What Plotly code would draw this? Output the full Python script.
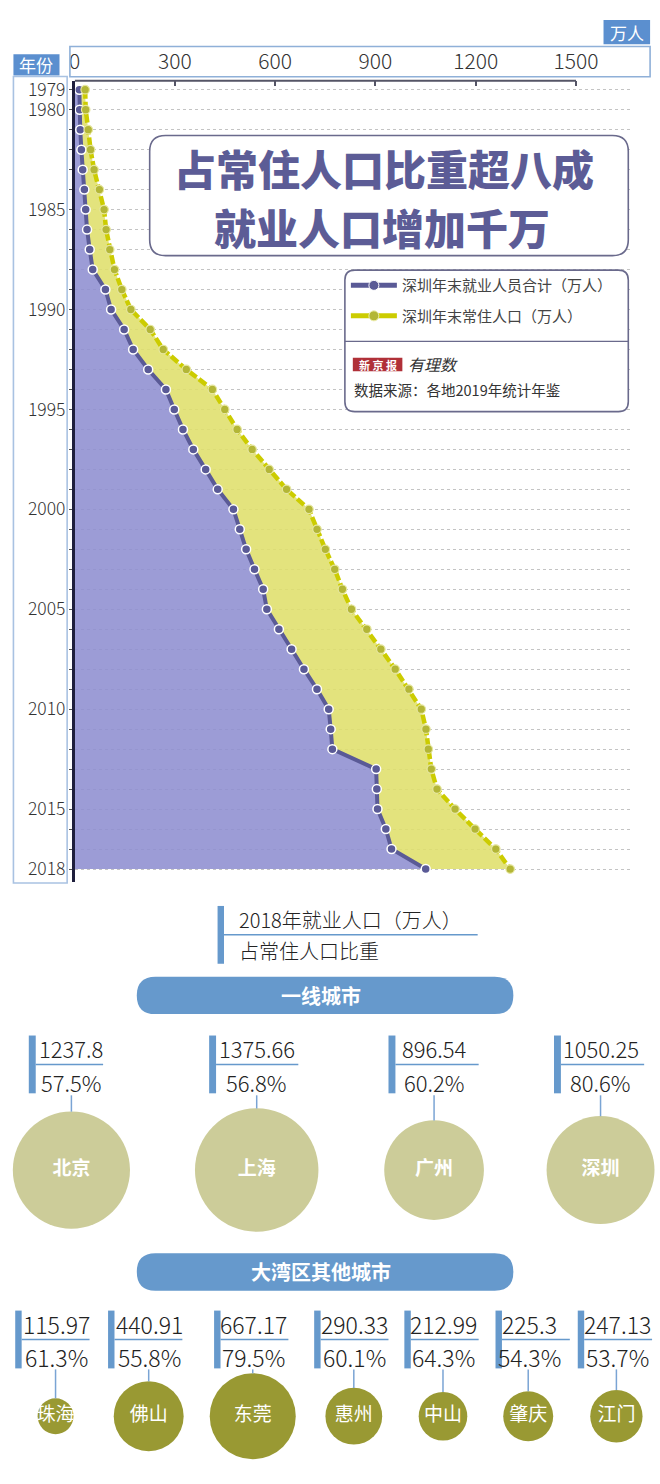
import math
import plotly.graph_objects as go

W, H = 660, 1484
FONT = "Noto Sans CJK SC"

# ---------------- data ----------------
years = list(range(1979, 2019))
employment = [14, 15, 16.7, 20, 24, 29, 33, 37, 45, 54,
              92, 109, 148, 175, 220, 273, 298, 324, 355, 392,
              428, 475, 494, 513, 538, 564, 575, 611, 649, 686,
              725, 760, 766, 771, 902, 904, 906, 931, 948, 1050.25]
population = [31.4, 33, 40.6, 47.5, 58, 74, 88, 94, 105, 119,
              141, 168, 226, 265, 334, 412, 449, 486, 531, 582,
              634, 701, 725, 750, 778, 801, 828, 874, 916, 959,
              1000, 1037, 1051, 1058, 1067, 1084, 1138, 1198, 1260, 1303]
x_ticks = [0, 300, 600, 900, 1200, 1500]
year_ticks = [1979, 1980, 1985, 1990, 1995, 2000, 2005, 2010, 2015, 2018]

tier1_cities = ["北京", "上海", "广州", "深圳"]
tier1_jobs = [1237.8, 1375.66, 896.54, 1050.25]
tier1_share = ["57.5%", "56.8%", "60.2%", "80.6%"]

tier2_cities = ["珠海", "佛山", "东莞", "惠州", "中山", "肇庆", "江门"]
tier2_jobs = [115.97, 440.91, 667.17, 290.33, 212.99, 225.3, 247.13]
tier2_share = ["61.3%", "55.8%", "79.5%", "60.1%", "64.3%", "54.3%", "53.7%"]

series_names = ["深圳年末就业人员合计（万人）", "深圳年末常住人口（万人）"]

# ---------------- layout constants (pixels) ----------------
X0_PX, PX_PER_UNIT, X_END_PX = 69.3, 0.3373, 630
Y_TOP_PX, Y_BOT_PX = 76, 880
ROW0_PX, ROW_STEP = 85, 20.05

tier1_cx = [66, 253, 432, 600]
tier1_bar = [23, 205, 386, 553]
tier1_line_end = [98, 295, 477, 644]
tier1_cy = 1169

tier2_cx = [50, 144, 249, 351, 441, 527, 616]
tier2_bar = [9.3, 103, 210, 311, 402, 494, 577]
tier2_cy = 1416

SIZE_K = 3.33

BLUE = "#6699cc"
PURPLE = "#5a5a96"
YEL = "#cccc00"
LIGHT = 300


def Y(py):
    return 1 - py / H


def X(px):
    return px / W


def rrect_path(x0, y0, x1, y1, r):
    return (f"M {x0+r},{y0} L {x1-r},{y0} Q {x1},{y0} {x1},{y0+r} "
            f"L {x1},{y1-r} Q {x1},{y1} {x1-r},{y1} L {x0+r},{y1} "
            f"Q {x0},{y1} {x0},{y1-r} L {x0},{y0+r} Q {x0},{y0} {x0+r},{y0} Z")


fig = go.Figure()

# main series
fig.add_trace(go.Scatter(
    x=employment, y=years, mode="lines+markers", fill="tozerox",
    fillcolor="rgba(142,142,208,0.88)",
    line=dict(color=PURPLE, width=4),
    marker=dict(size=9, color=PURPLE, line=dict(color="white", width=1.5)),
    showlegend=False, hoverinfo="skip"))
fig.add_trace(go.Scatter(
    x=population, y=years, mode="lines+markers", fill="tonextx",
    fillcolor="rgba(223,223,107,0.88)",
    line=dict(color=YEL, width=4.5, dash="9px,3px"),
    marker=dict(size=8.5, color="#b3b636", line=dict(color="#e6e6a0", width=1.2)),
    showlegend=False, hoverinfo="skip"))

# legend entries
fig.add_trace(go.Scatter(x=[None], y=[None], mode="lines+markers", name=series_names[0],
                         legendgroup="a",
                         line=dict(color=PURPLE, width=5),
                         marker=dict(size=10, color=PURPLE, line=dict(color="white", width=1))))
fig.add_trace(go.Scatter(x=[None], y=[None], mode="lines+markers", name=series_names[1],
                         legendgroup="b",
                         line=dict(color=YEL, width=5),
                         marker=dict(size=10, color="#b3b636", line=dict(color="#eeeeb0", width=1))))

# bubbles (pixel-space overlay axes)
fig.add_trace(go.Scatter(
    x=tier1_cx, y=[tier1_cy] * len(tier1_cx), xaxis="x2", yaxis="y2",
    mode="markers+text", text=tier1_cities, textposition="middle center",
    textfont=dict(family=FONT, size=19, color="white", weight="bold"),
    marker=dict(size=[SIZE_K * math.sqrt(v) for v in tier1_jobs], color="#cccc99",
                opacity=1, line=dict(width=0)),
    showlegend=False, hoverinfo="skip"))
fig.add_trace(go.Scatter(
    x=tier2_cx, y=[tier2_cy] * len(tier2_cx), xaxis="x2", yaxis="y2",
    mode="markers+text", text=tier2_cities, textposition="middle center",
    textfont=dict(family=FONT, size=19, color="white"),
    marker=dict(size=[SIZE_K * math.sqrt(v) for v in tier2_jobs], color="#999933",
                opacity=1, line=dict(width=0)),
    showlegend=False, hoverinfo="skip"))

shapes = []
annos = []

# ---- header boxes ----
shapes.append(dict(type="rect", xref="x2", yref="y2", x0=603, x1=650, y0=15, y1=39.5,
                   fillcolor="#5b8fcf", line=dict(width=0), layer="above"))
annos.append(dict(xref="x2", yref="y2", x=626.5, y=27.5, text="万人", showarrow=False,
                  font=dict(family=FONT, size=17, color="white")))
shapes.append(dict(type="rect", xref="x2", yref="y2", x0=64.5, x1=650, y0=41.7, y1=72,
                   line=dict(color="#8fb0d8", width=1.6), layer="above"))
shapes.append(dict(type="rect", xref="x2", yref="y2", x0=7.5, x1=54, y0=49.5, y1=70.7,
                   fillcolor="#5b8fcf", line=dict(width=0), layer="above"))
annos.append(dict(xref="x2", yref="y2", x=30.7, y=60, text="年份", showarrow=False,
                  font=dict(family=FONT, size=17, color="white")))
shapes.append(dict(type="rect", xref="x2", yref="y2", x0=7.5, x1=61.7, y0=71.7, y1=881,
                   line=dict(color="#a9c2e2", width=1.6), layer="above"))

# top axis line
shapes.append(dict(type="line", xref="x", yref="paper", x0=0, x1=1500,
                   y0=Y(Y_TOP_PX), y1=Y(Y_TOP_PX), line=dict(color="#555566", width=2)))

# ---- title box ----
shapes.append(dict(type="path", xref="x2", yref="y2", path=rrect_path(145, 131, 628, 251.5, 16),
                   fillcolor="white", line=dict(color="#6a6a8c", width=1.6), layer="above"))
annos.append(dict(xref="x2", yref="y2", x=381, y=163, text="占常住人口比重超八成", showarrow=False,
                  font=dict(family=FONT, size=42, color="#5c5c96", weight=900)))
annos.append(dict(xref="x2", yref="y2", x=379, y=222, text="就业人口增加千万", showarrow=False,
                  font=dict(family=FONT, size=42, color="#5c5c96", weight=900)))

# ---- legend box ----
shapes.append(dict(type="path", xref="x2", yref="y2", path=rrect_path(342, 266, 628, 408, 10),
                   fillcolor="white", line=dict(color="#6a6a8c", width=1.6), layer="above"))
shapes.append(dict(type="line", xref="x2", yref="y2", x0=342, x1=628, y0=337.5, y1=337.5,
                   line=dict(color="#6a6a8c", width=1.4), layer="above"))
shapes.append(dict(type="rect", xref="x2", yref="y2", x0=350, x1=400, y0=354, y1=367.5,
                   fillcolor="#b03038", line=dict(width=0), layer="above"))
annos.append(dict(xref="x2", yref="y2", x=375, y=361, text="新 京 报", showarrow=False,
                  font=dict(family=FONT, size=11, color="white", weight="bold")))
annos.append(dict(xref="x2", yref="y2", x=404, y=360, xanchor="left", text="有理数", showarrow=False,
                  font=dict(family=FONT, size=16, color="#333333", style="italic")))
annos.append(dict(xref="x2", yref="y2", x=349, y=386, xanchor="left",
                  text="数据来源：各地2019年统计年鉴", showarrow=False,
                  font=dict(family=FONT, size=14.5, color="#333333")))

# ---- lower key ----
shapes.append(dict(type="rect", xref="x2", yref="y2", x0=213.5, x1=220, y0=904, y1=962,
                   fillcolor=BLUE, line=dict(width=0)))
shapes.append(dict(type="line", xref="x2", yref="y2", x0=220, x1=476, y0=933, y1=933,
                   line=dict(color=BLUE, width=1.5)))
annos.append(dict(xref="x2", yref="y2", x=233, y=918, xanchor="left",
                  text="2018年就业人口（万人）", showarrow=False,
                  font=dict(family=FONT, size=20, color="#222222", weight=LIGHT)))
annos.append(dict(xref="x2", yref="y2", x=233, y=949, xanchor="left",
                  text="占常住人口比重", showarrow=False,
                  font=dict(family=FONT, size=20, color="#222222", weight=LIGHT)))

# ---- pills ----
for (y0, y1, label) in [(975, 1012.5, "一线城市"), (1252.5, 1290, "大湾区其他城市")]:
    r = (y1 - y0) / 2
    shapes.append(dict(type="path", xref="x2", yref="y2", path=rrect_path(132, y0, 512, y1, r),
                       fillcolor=BLUE, line=dict(width=0)))
    annos.append(dict(xref="x2", yref="y2", x=318, y=(y0 + y1) / 2, text=label, showarrow=False,
                      font=dict(family=FONT, size=20, color="white", weight="bold")))

# ---- tier 1 items ----
for i in range(len(tier1_cities)):
    bx, cx = tier1_bar[i], tier1_cx[i]
    shapes.append(dict(type="rect", xref="x2", yref="y2", x0=bx, x1=bx + 7, y0=1034, y1=1092,
                       fillcolor=BLUE, line=dict(width=0)))
    shapes.append(dict(type="line", xref="x2", yref="y2", x0=bx + 7, x1=tier1_line_end[i],
                       y0=1063, y1=1063, line=dict(color=BLUE, width=1.5)))
    top = tier1_cy - SIZE_K * math.sqrt(tier1_jobs[i]) / 2
    shapes.append(dict(type="line", xref="x2", yref="y2", x0=cx, x1=cx, y0=1094, y1=top,
                       line=dict(color="#7aa4d4", width=1.5)))
    annos.append(dict(xref="x2", yref="y2", x=cx, y=1047, text=f"{tier1_jobs[i]:g}", showarrow=False,
                      font=dict(family=FONT, size=22, color="#222222", weight=LIGHT)))
    annos.append(dict(xref="x2", yref="y2", x=cx, y=1081, text=tier1_share[i], showarrow=False,
                      font=dict(family=FONT, size=22, color="#222222", weight=LIGHT)))

# ---- tier 2 items ----
for i in range(len(tier2_cities)):
    bx, cx = tier2_bar[i], tier2_cx[i]
    shapes.append(dict(type="rect", xref="x2", yref="y2", x0=bx, x1=bx + 6.5, y0=1310, y1=1368,
                       fillcolor=BLUE, line=dict(width=0)))
    shapes.append(dict(type="line", xref="x2", yref="y2", x0=bx + 6.5, x1=bx + 75,
                       y0=1339, y1=1339, line=dict(color=BLUE, width=1.5)))
    top = tier2_cy - SIZE_K * math.sqrt(tier2_jobs[i]) / 2
    shapes.append(dict(type="line", xref="x2", yref="y2", x0=cx, x1=cx, y0=1369, y1=top,
                       line=dict(color="#7aa4d4", width=1.5)))
    annos.append(dict(xref="x2", yref="y2", x=cx + 1, y=1323, text=f"{tier2_jobs[i]:g}", showarrow=False,
                      font=dict(family=FONT, size=23, color="#222222", weight=LIGHT)))
    annos.append(dict(xref="x2", yref="y2", x=cx + 1, y=1357, text=tier2_share[i], showarrow=False,
                      font=dict(family=FONT, size=23, color="#222222", weight=LIGHT)))

x_range_max = (X_END_PX - X0_PX) / PX_PER_UNIT
y_top_year = years[0] - (ROW0_PX - Y_TOP_PX) / ROW_STEP
y_bot_year = years[0] + (Y_BOT_PX - ROW0_PX) / ROW_STEP

grid_style = dict(gridcolor="#c4c4c4", griddash="3px,3px", gridwidth=1)

fig.update_layout(
    width=W, height=H, margin=dict(l=0, r=0, t=0, b=0),
    paper_bgcolor="white", plot_bgcolor="rgba(0,0,0,0)",
    font=dict(family=FONT, color="#333333"),
    xaxis=dict(domain=[X(X0_PX), X(X_END_PX)], range=[0, x_range_max], side="top",
               anchor="y", showgrid=False, zeroline=False, showline=False,
               tickvals=x_ticks, ticks="inside", ticklen=5, tickwidth=1.5, tickcolor="#555566",
               tickfont=dict(family=FONT, size=21, color="#333333", weight=LIGHT),
               ticklabelstandoff=7, fixedrange=True),
    yaxis=dict(domain=[Y(Y_BOT_PX), Y(Y_TOP_PX)], range=[y_bot_year, y_top_year],
               anchor="x", zeroline=False, showline=True, linecolor="#1e1e3c", linewidth=2.5,
               tickvals=year_ticks, ticks="outside", ticklen=3, tickcolor="#555555",
               tickfont=dict(family=FONT, size=17.5, color="#333333", weight=LIGHT),
               showgrid=True, **grid_style,
               minor=dict(dtick=1, tick0=1979, ticks="outside", ticklen=3, tickcolor="#555555",
                          showgrid=True, **grid_style),
               fixedrange=True),
    xaxis2=dict(domain=[0, 1], range=[0, W], visible=False, anchor="y2", fixedrange=True),
    yaxis2=dict(domain=[0, 1], range=[H, 0], visible=False, anchor="x2", fixedrange=True),
    legend=dict(x=X(343), y=Y(265), xanchor="left", yanchor="top",
                bgcolor="rgba(0,0,0,0)", font=dict(family=FONT, size=15, color="#444444"),
                itemwidth=46, tracegroupgap=8, traceorder="grouped"),
    shapes=shapes, annotations=annos,
)

fig.write_html("out.html")
